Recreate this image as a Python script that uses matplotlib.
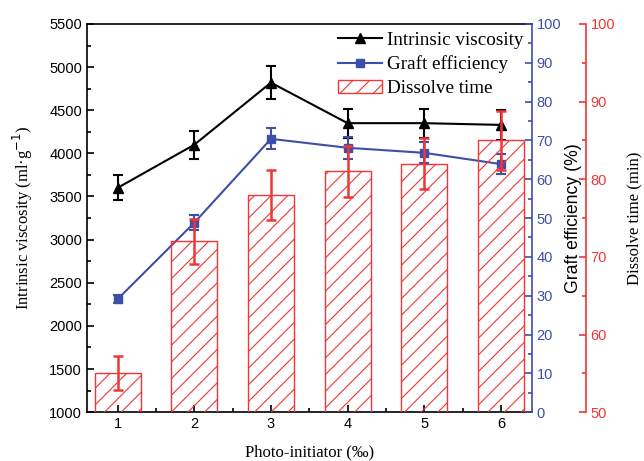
import numpy as np
import matplotlib
matplotlib.use("Agg")
import matplotlib.pyplot as plt
from matplotlib.ticker import MultipleLocator
from matplotlib.lines import Line2D

# data
initiator = [1, 2, 3, 4, 5, 6]
viscosity = [3600, 4100, 4820, 4350, 4350, 4330]
viscosity_err = [145, 160, 190, 170, 170, 170]
graft = [29.1, 48.8, 70.4, 68.1, 66.8, 63.9]
graft_err = [1.0, 1.9, 2.7, 2.8, 2.7, 2.5]
dissolve = [55.0, 72.0, 78.0, 81.0, 82.0, 85.0]
dissolve_err = [2.2, 2.9, 3.2, 3.3, 3.3, 3.8]
labels = ["Intrinsic viscosity", "Graft efficiency", "Dissolve time"]

black = "black"
blue = "#3d4fa8"
red = "#f23535"

plt.rcParams["font.family"] = "Liberation Sans"
plt.rcParams["hatch.linewidth"] = 0.8
plt.rcParams["hatch.color"] = red
serif = "Liberation Serif"

fig = plt.figure(figsize=(6.44, 4.61), dpi=100)
ax = fig.add_axes([0.135, 0.106, 0.6905, 0.842])
ax2 = ax.twinx()
ax3 = ax.twinx()

# dissolve time bars on the offset red axis
bars = ax3.bar(initiator, dissolve, width=0.6, facecolor="none", edgecolor=red,
               hatch="//", linewidth=1.0)
ax3.errorbar(initiator, dissolve, yerr=dissolve_err, fmt="none", ecolor=red,
             elinewidth=1.8, capsize=3.5, capthick=1.8)

ax.errorbar(initiator, viscosity, yerr=viscosity_err, color=black, marker="^",
            markersize=7, linewidth=1.5, elinewidth=1.5, capsize=3.5, capthick=1.5)
ax2.errorbar(initiator, graft, yerr=graft_err, color=blue, marker="s",
             markersize=5.5, linewidth=1.5, elinewidth=1.5, capsize=3.5, capthick=1.5)

ax.set_xlim(0.6, 6.4)
ax.set_ylim(1000, 5500)
ax2.set_ylim(0, 100)
ax3.set_ylim(50, 100)

ax.xaxis.set_major_locator(MultipleLocator(1))
ax.xaxis.set_minor_locator(MultipleLocator(0.5))
ax.yaxis.set_major_locator(MultipleLocator(500))
ax.yaxis.set_minor_locator(MultipleLocator(250))
ax2.yaxis.set_major_locator(MultipleLocator(10))
ax2.yaxis.set_minor_locator(MultipleLocator(5))
ax3.yaxis.set_major_locator(MultipleLocator(10))
ax3.yaxis.set_minor_locator(MultipleLocator(5))

ax.tick_params(axis="both", which="both", direction="in", labelsize=10.5, width=1.2)
ax.tick_params(axis="both", which="major", length=5)
ax.tick_params(axis="both", which="minor", length=3)
ax.tick_params(axis="x", which="minor", labelbottom=False)

ax.spines["right"].set_visible(False)
for s in ["left", "bottom", "top"]:
    ax.spines[s].set_linewidth(1.2)

for a in (ax2, ax3):
    for s in ["left", "bottom", "top"]:
        a.spines[s].set_visible(False)
ax2.spines["right"].set_color(blue)
ax2.spines["right"].set_linewidth(1.2)
ax2.tick_params(axis="y", which="both", direction="in", colors=blue, labelsize=10.5, width=1.2)
ax2.tick_params(axis="y", which="major", length=5)
ax2.tick_params(axis="y", which="minor", length=3)

ax3.spines["right"].set_position(("axes", 1.122))
ax3.spines["right"].set_color(red)
ax3.spines["right"].set_linewidth(1.2)
ax3.tick_params(axis="y", which="both", direction="in", colors=red, labelsize=10.5, width=1.2)
ax3.tick_params(axis="y", which="major", length=5)
ax3.tick_params(axis="y", which="minor", length=3)

ax.set_xlabel("Photo-initiator (‰)", family=serif, fontsize=12, labelpad=9.5)
ax.set_ylabel("Intrinsic viscosity (ml·g$^{-1}$)", family=serif, fontsize=12, labelpad=10)
ax2.set_ylabel("Graft efficiency (%)", fontsize=12.7, labelpad=2.5)
ax3.set_ylabel("Dissolve time (min)", family=serif, fontsize=12, labelpad=8)

h1 = Line2D([], [], color=black, marker="^", markersize=7, linewidth=1.5)
h2 = Line2D([], [], color=blue, marker="s", markersize=5.5, linewidth=1.5)
ax3.legend([h1, h2, bars], labels, loc="upper right", bbox_to_anchor=(1.0, 1.0),
           frameon=False, prop={"family": serif, "size": 13.8}, handlelength=2.3,
           handleheight=0.7, handletextpad=0.28, labelspacing=0.33,
           borderpad=0.4, borderaxespad=0.0)

fig.savefig("out.png", dpi=100, facecolor="white")
